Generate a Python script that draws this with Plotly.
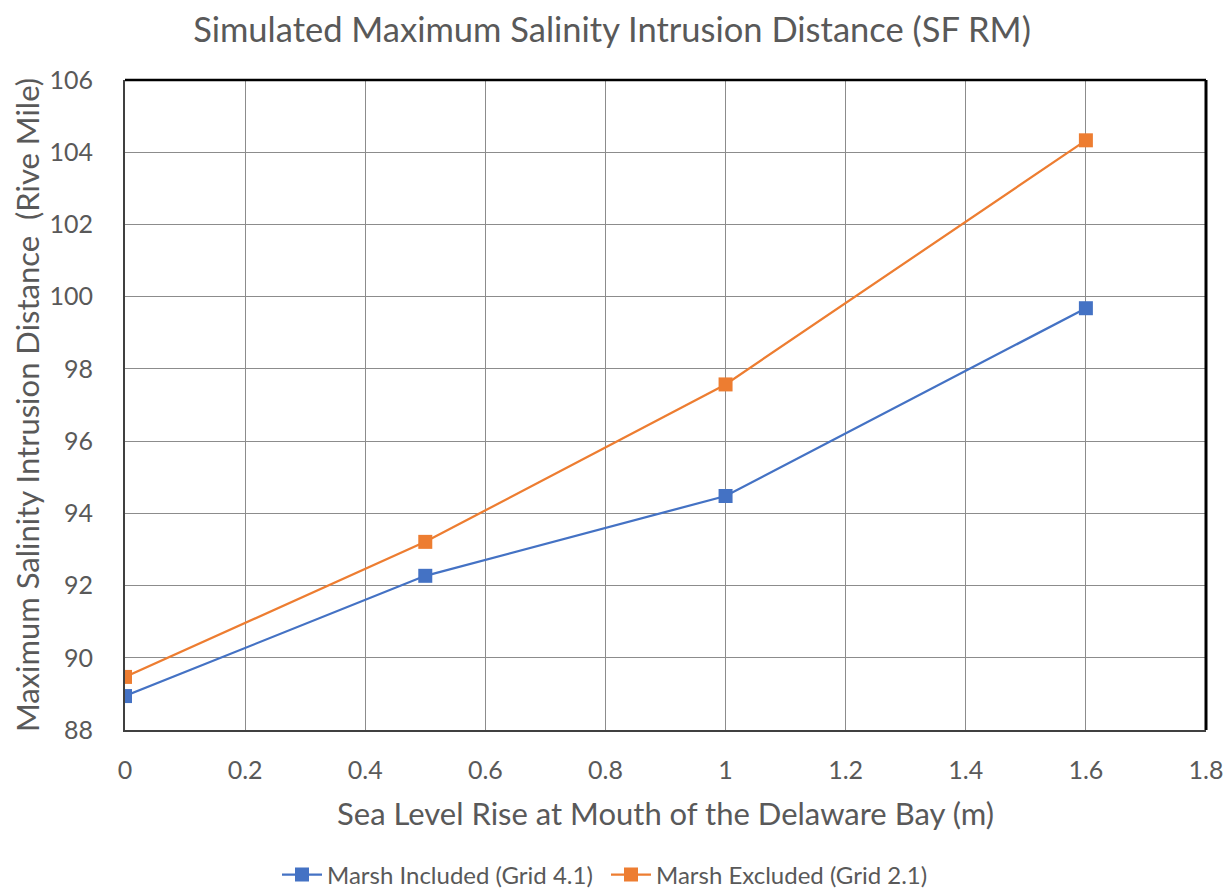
import plotly.graph_objects as go

slr = [0, 0.5, 1, 1.6]
marsh_included = [88.94, 92.27, 94.48, 99.68]
marsh_excluded = [89.47, 93.21, 97.57, 104.33]

x_ticks = [0, 0.2, 0.4, 0.6, 0.8, 1, 1.2, 1.4, 1.6, 1.8]
x_tick_labels = ["0", "0.2", "0.4", "0.6", "0.8", "1", "1.2", "1.4", "1.6", "1.8"]
y_ticks = [88, 90, 92, 94, 96, 98, 100, 102, 104, 106]

font_family = "Lato, Open Sans, sans-serif"
text_color = "#595959"

# page body has an 8px default margin; figure is sized/offset to compensate
W, H = 1223, 880
OFF = 8

fig = go.Figure()
fig.add_trace(go.Scatter(
    x=slr, y=marsh_included, mode="lines+markers", name="Marsh Included (Grid 4.1)",
    line=dict(color="#4472C4", width=2.25),
    marker=dict(symbol="square", size=14, color="#4472C4"),
    legend="legend",
))
fig.add_trace(go.Scatter(
    x=slr, y=marsh_excluded, mode="lines+markers", name="Marsh Excluded (Grid 2.1)",
    line=dict(color="#ED7D31", width=2.25),
    marker=dict(symbol="square", size=14, color="#ED7D31"),
    legend="legend2",
))

legend_common = dict(orientation="h", xanchor="left", yanchor="middle",
                     y=-(875 - 730) / 650,
                     font=dict(size=24, color=text_color), itemwidth=40)

fig.update_layout(
    width=W, height=H,
    margin=dict(l=117, r=25, t=72, b=158, autoexpand=False),
    paper_bgcolor="white", plot_bgcolor="white",
    font=dict(family=font_family, color=text_color),
    title=dict(text="Simulated Maximum Salinity Intrusion Distance (SF RM)",
               x=(612 - OFF) / W, xanchor="center", y=1 - (30 - OFF) / H, yanchor="middle",
               font=dict(size=34.5, color=text_color, family=font_family)),
    showlegend=True,
    legend=dict(x=(277 - OFF - 117) / 1081, **legend_common),
    legend2=dict(x=(606 - OFF - 117) / 1081, **legend_common),
    xaxis=dict(range=[0, 1.8], tickmode="array", tickvals=x_ticks, ticktext=x_tick_labels,
               showgrid=True, gridcolor="#8C8C8C", gridwidth=1,
               showline=True, linecolor="#404040", linewidth=2, mirror=False,
               zeroline=False, ticks="", ticklabelstandoff=17, automargin=False,
               tickfont=dict(size=25, color=text_color),
               title=dict(text="Sea Level Rise at Mouth of the Delaware Bay (m)",
                          font=dict(size=31, color=text_color), standoff=20)),
    yaxis=dict(range=[88, 106], tickmode="array", tickvals=y_ticks,
               showgrid=True, gridcolor="#8C8C8C", gridwidth=1,
               showline=True, linecolor="#404040", linewidth=2,
               zeroline=False, ticks="", ticklabelstandoff=25, automargin=False,
               tickfont=dict(size=25, color=text_color),
               title=dict(text="Maximum Salinity Intrusion Distance  (Rive Mile)",
                          font=dict(size=31, color=text_color), standoff=6)),
)

# black top and right border
fig.add_shape(type="line", xref="paper", yref="paper", x0=0, x1=1, y0=1, y1=1,
              line=dict(color="black", width=2.5))
fig.add_shape(type="line", xref="paper", yref="paper", x0=1, x1=1, y0=0, y1=1,
              line=dict(color="black", width=3))

fig.write_html("out.html")
